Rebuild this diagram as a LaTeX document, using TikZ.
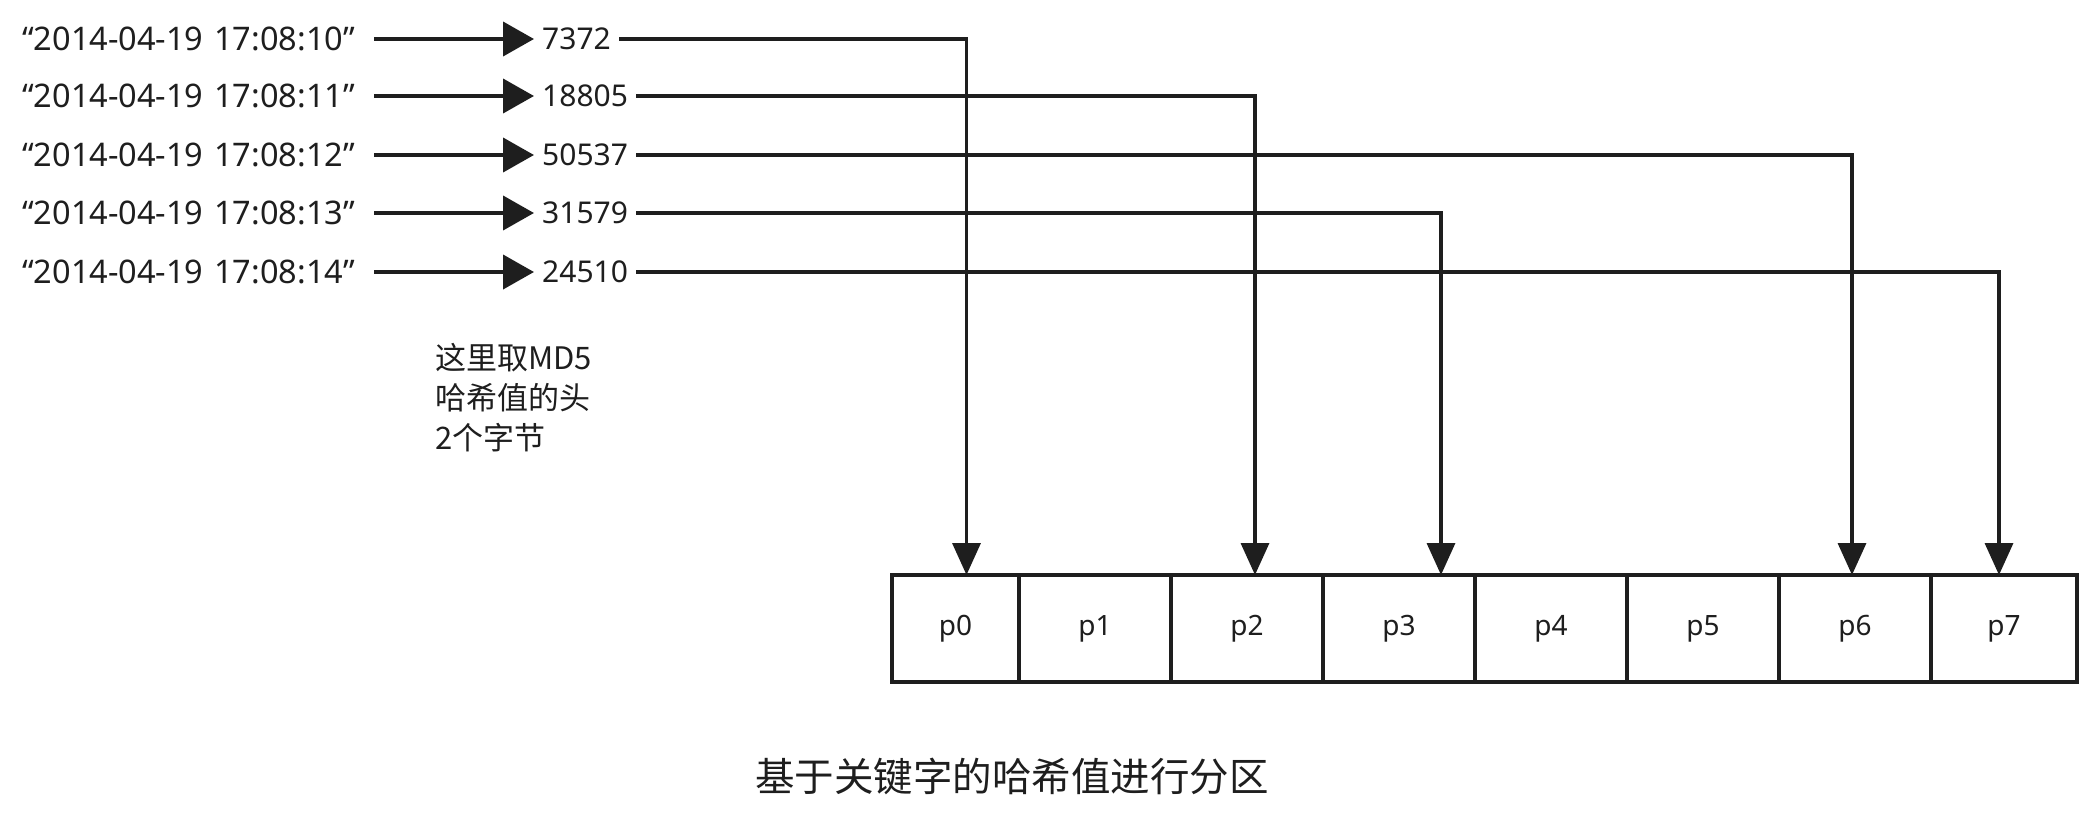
\documentclass[tikz,border=0pt]{standalone}
\usepackage{fontspec}
\setmainfont{Noto Sans CJK SC}
\newfontfamily\latinfont{Noto Sans}
\usepackage{tikz}
\usetikzlibrary{positioning,arrows.meta}
\definecolor{ink}{HTML}{1E1E1E}

\begin{document}
\begin{tikzpicture}[x=1pt,y=-1pt,
	keytext/.style={anchor=west, inner sep=0pt, text width=352pt, align=left, text=ink, font=\latinfont\fontsize{32.5}{36}\selectfont},
	hashtext/.style={anchor=west, inner sep=8pt, text=ink, font=\latinfont\fontsize{30}{36}\selectfont},
	part/.style={rectangle, draw=ink, line width=3.5pt, outer sep=0pt, minimum height=107pt, minimum width=152pt, text=ink, font=\latinfont\fontsize{28}{34}\selectfont},
	feed/.style={-{Triangle[length=31pt,width=34pt]}, line width=4pt, draw=ink},
	link/.style={-{Triangle[length=32pt,width=28pt]}, line width=3.5pt, draw=ink}]

	\useasboundingbox (0,0) rectangle (2097,827);

	\node[keytext] (K0) at (22,39) {“2014-04-19 17:08:10”};
	\node[keytext] (K1) at (22,96) {“2014-04-19 17:08:11”};
	\node[keytext] (K2) at (22,155) {“2014-04-19 17:08:12”};
	\node[keytext] (K3) at (22,213) {“2014-04-19 17:08:13”};
	\node[keytext] (K4) at (22,272) {“2014-04-19 17:08:14”};

	\node[hashtext] (H0) at (534,39) {7372};
	\node[hashtext] (H1) at (534,96) {18805};
	\node[hashtext] (H2) at (534,155) {50537};
	\node[hashtext] (H3) at (534,213) {31579};
	\node[hashtext] (H4) at (534,272) {24510};

	\node[anchor=north west, inner sep=0pt, align=left, text=ink, font=\fontsize{31}{40}\selectfont] (note) at (435,343) {这里取MD5\\哈希值的头\\2个字节};

	\node[part, minimum width=127pt] (P0) at (955.5,628.5) {p0};
	\node[part, right=0pt of P0] (P1) {p1};
	\node[part, right=0pt of P1] (P2) {p2};
	\node[part, right=0pt of P2] (P3) {p3};
	\node[part, right=0pt of P3] (P4) {p4};
	\node[part, right=0pt of P4] (P5) {p5};
	\node[part, right=0pt of P5] (P6) {p6};
	\node[part, right=0pt of P6, minimum width=146pt] (P7) {p7};

	\node[text=ink, font=\fontsize{39.5}{44}\selectfont] (caption) at (1012,776) {基于关键字的哈希值进行分区};

	\draw[feed] (K0.east) -- (H0.west);
	\draw[feed] (K1.east) -- (H1.west);
	\draw[feed] (K2.east) -- (H2.west);
	\draw[feed] (K3.east) -- (H3.west);
	\draw[feed] (K4.east) -- (H4.west);

	\draw[link] (H0.east) -| ([xshift=11pt]P0.north);
	\draw[link] (H1.east) -| ([xshift=8pt]P2.north);
	\draw[link] (H2.east) -| ([xshift=-3pt]P6.north);
	\draw[link] (H3.east) -| ([xshift=42pt]P3.north);
	\draw[link] (H4.east) -| ([xshift=-5pt]P7.north);

\end{tikzpicture}
\end{document}
